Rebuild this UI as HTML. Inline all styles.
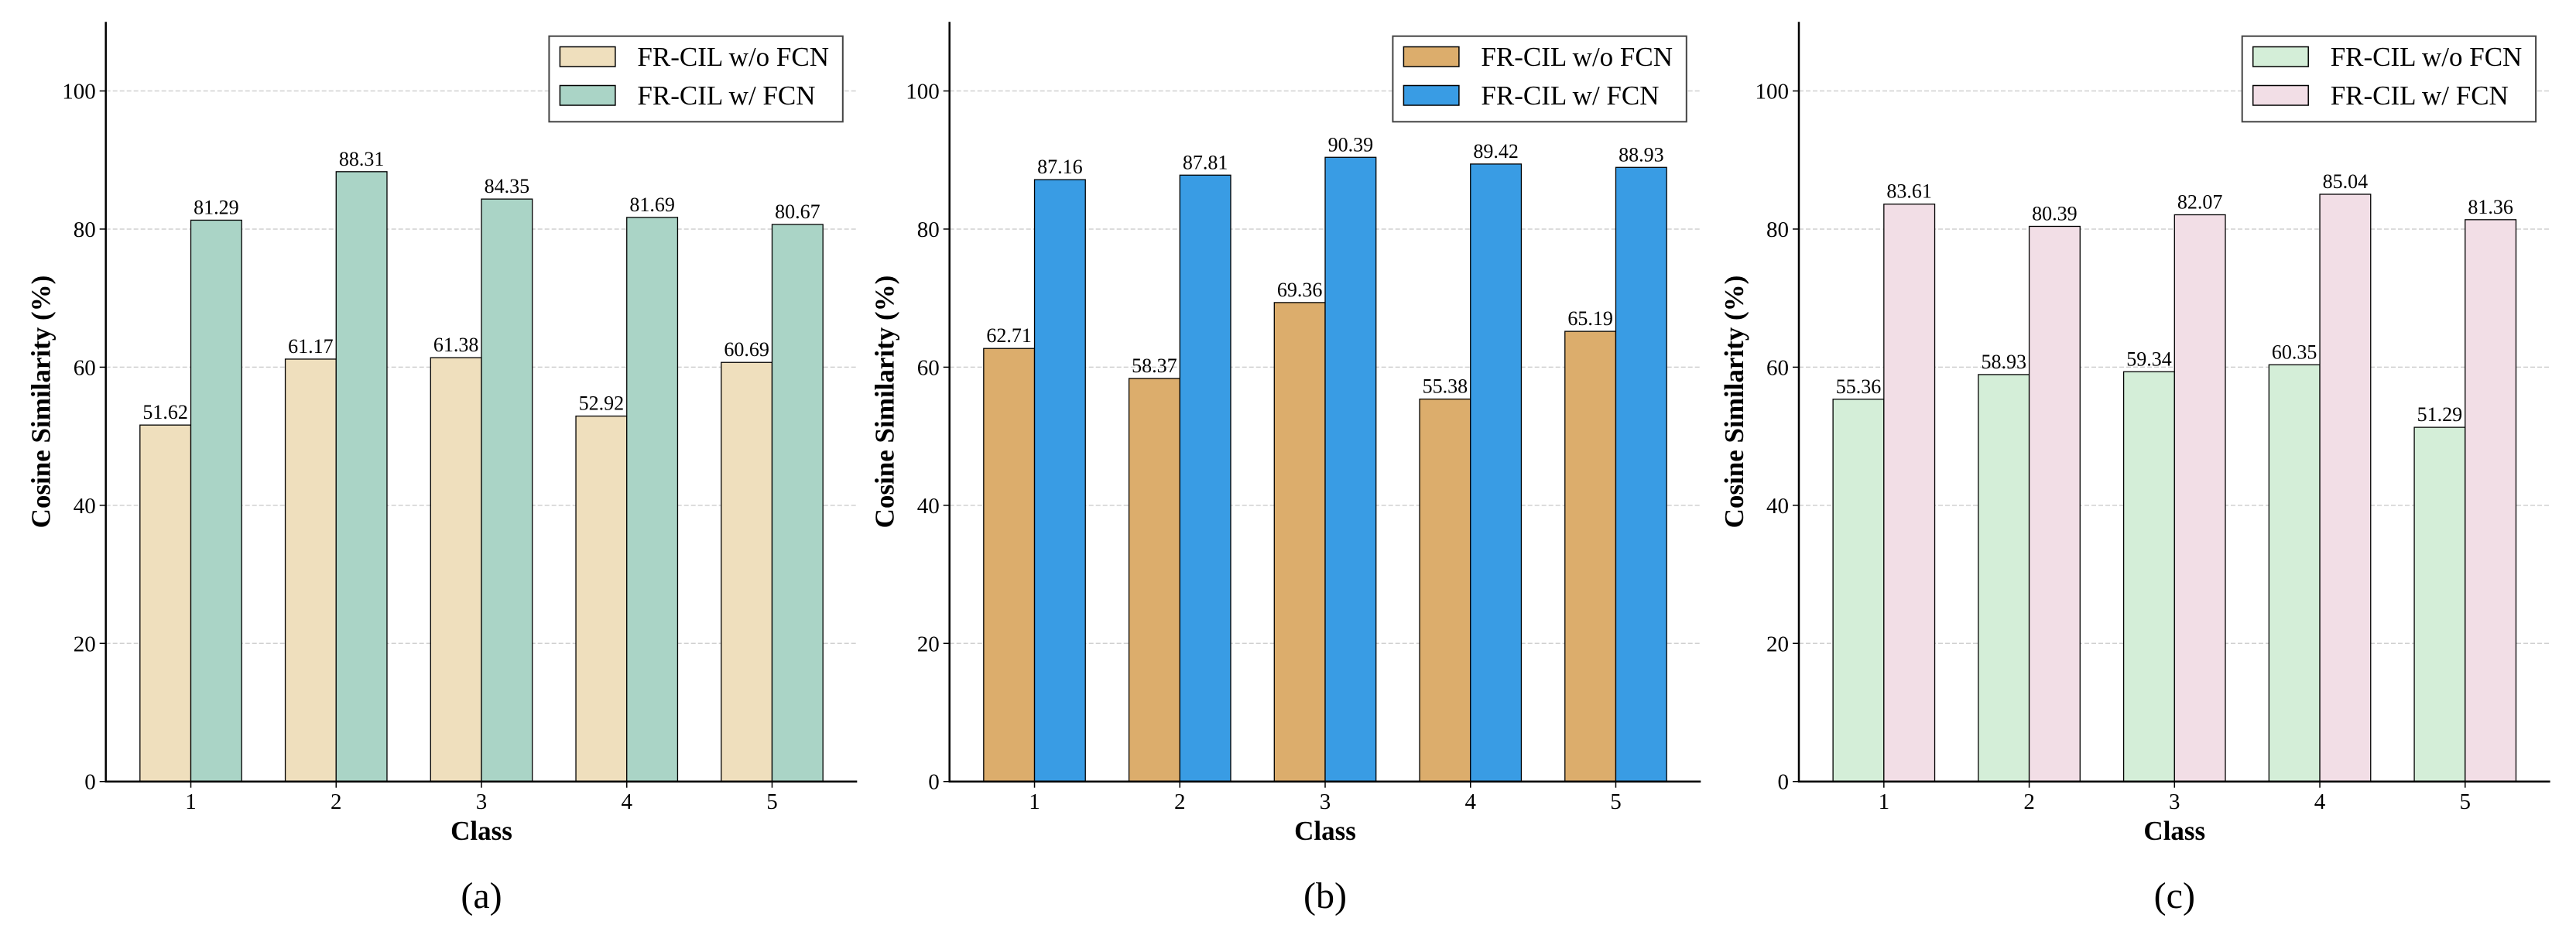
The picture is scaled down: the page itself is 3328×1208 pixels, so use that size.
<!DOCTYPE html>
<html><head><meta charset="utf-8">
<style>
html,body{margin:0;padding:0;background:#fff;}
svg{display:block;}
svg text{font-family:"Liberation Serif","DejaVu Serif",serif;}
</style></head>
<body>
<svg id="fig" width="3328" height="1208" viewBox="0 0 3328 1208" xmlns="http://www.w3.org/2000/svg" font-family="Liberation Serif, serif"></svg>
<script>
const categories = ["1","2","3","4","5"];
const yTicks = [0,20,40,60,80,100];
const seriesNames = ["FR-CIL w/o FCN","FR-CIL w/ FCN"];
const panelLabels = ["(a)","(b)","(c)"];
const aWithout = [51.62,61.17,61.38,52.92,60.69];
const aWith = [81.29,88.31,84.35,81.69,80.67];
const bWithout = [62.71,58.37,69.36,55.38,65.19];
const bWith = [87.16,87.81,90.39,89.42,88.93];
const cWithout = [55.36,58.93,59.34,60.35,51.29];
const cWith = [83.61,80.39,82.07,85.04,81.36];

const NS="http://www.w3.org/2000/svg";
const svg=document.getElementById('fig');
function mk(tag,attrs,parent){const e=document.createElementNS(NS,tag);for(const k in attrs)e.setAttribute(k,attrs[k]);if(tag==='text')e.setAttribute('font-family','Liberation Serif, serif');(parent||svg).appendChild(e);return e;}

const panels=[
 {x0:136.7,w:[aWithout,aWith],col:["#efdfbd","#aad4c6"],lab:panelLabels[0],key:"a"},
 {x0:1226.7,w:[bWithout,bWith],col:["#dcad6c","#399ce4"],lab:panelLabels[1],key:"b"},
 {x0:2324,w:[cWithout,cWith],col:["#d4eed8","#f2dee6"],lab:panelLabels[2],key:"c"}
];
const y0=1009.7, yTop=28.3, ymax=110, axW=970.6, barW=0.35;
panels.forEach(p=>{
  const g=mk('g',{});
  
  
  const xs=v=>p.x0+(v+0.585)/5.17*axW;
  const ys=v=>y0-(v/ymax)*(y0-yTop);
  yTicks.forEach(t=>{
    if(t>0){const gl=mk('line',{x1:p.x0,x2:p.x0+axW,y1:ys(t),y2:ys(t),stroke:"#d0d0d0","stroke-width":1.5,"stroke-dasharray":"6,3"},g);
      
      }
    const tk=mk('line',{x1:p.x0-8,x2:p.x0,y1:ys(t),y2:ys(t),stroke:"#000","stroke-width":1.5},g);
    
    
    const tl=mk('text',{x:p.x0-13,y:ys(t)+10,"text-anchor":"end","font-size":29},g);
    tl.textContent=t;
    
    
  });
  categories.forEach((c,i)=>{
    [0,1].forEach(s=>{
      const v=p.w[s][i];
      const left=xs(i+(s===0?-barW:0));
      const r=mk('rect',{x:left,y:ys(v),width:xs(barW)-xs(0),height:y0-ys(v),fill:p.col[s],stroke:"#000","stroke-width":1.3},g);
      
      
      const vl=mk('text',{x:left+(xs(barW)-xs(0))/2,y:ys(v)-8,"text-anchor":"middle","font-size":26},g);
      vl.textContent=v.toFixed(2);
      
      
    });
    const xt=mk('line',{x1:xs(i),x2:xs(i),y1:y0,y2:y0+8,stroke:"#000","stroke-width":1.5},g);
    
    
    const xl=mk('text',{x:xs(i),y:1045,"text-anchor":"middle","font-size":29},g);
    xl.textContent=c;
    
    
  });
  const ls=mk('line',{x1:p.x0,x2:p.x0,y1:yTop,y2:y0+1,stroke:"#000","stroke-width":2.5},g);
  
  
  const bs=mk('line',{x1:p.x0-1,x2:p.x0+axW,y1:y0,y2:y0,stroke:"#000","stroke-width":2.5},g);
  
  
  const yt=mk('text',{x:0,y:0,"text-anchor":"middle","font-size":35,"font-weight":"bold",transform:`translate(${p.x0-72},${(y0+yTop)/2}) rotate(-90)`},g);
  yt.textContent="Cosine Similarity (%)";
  
  
  const xT=mk('text',{x:xs(2),y:1085,"text-anchor":"middle","font-size":35,"font-weight":"bold"},g);
  xT.textContent="Class";
  
  
  const pl=mk('text',{x:xs(2),y:1173,"text-anchor":"middle","font-size":48},g);
  pl.textContent=p.lab;
  
  
  const lx=p.x0+axW-18.5-379.4;
  const lg=mk('g',{},g);
  
  
  mk('rect',{x:lx,y:46.7,width:379.4,height:110.6,fill:"#fff",stroke:"#444","stroke-width":2},lg);
  seriesNames.forEach((n,s)=>{
    mk('rect',{x:lx+14,y:60.5+s*50,width:71.5,height:25.5,fill:p.col[s],stroke:"#000","stroke-width":1.5},lg);
    const t=mk('text',{x:lx+114,y:85+s*50,"font-size":35},lg);
    t.textContent=n;
    
    
  });
});
</script>
</body></html>
